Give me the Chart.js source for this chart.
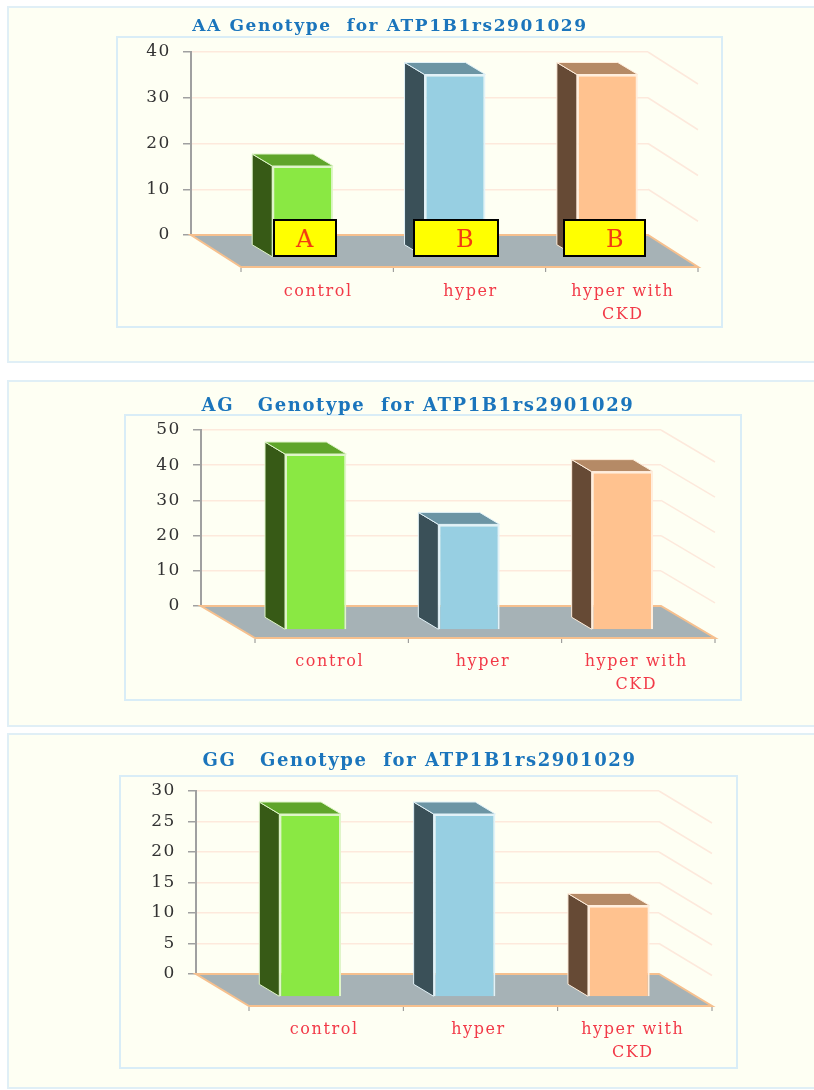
<!DOCTYPE html>
<html lang="en">
<head>
    <meta charset="UTF-8">
    <title>Genotype for ATP1B1rs2901029</title>
    <style>
        html, body { margin: 0; padding: 0; background: #fff; }
        body { position: relative; width: 814px; height: 1090px; overflow: hidden; }
        .panel, .frame, canvas, .tag { position: absolute; box-sizing: border-box; }
        .panel { left: 7px; width: 807px; background: #fefff3; border: 2px solid #e0eff6; border-right: 0; }
        .frame { border: 2px solid #d9edf7; }
        canvas { filter: blur(0.5px); }
        .tag {
            top: 219px; height: 38px;
            background: #ffff00; border: 2px solid #000;
            color: #f33b12; font: 24px/36px "DejaVu Serif", serif;
        }
    </style>
    <script src="https://cdn.jsdelivr.net/npm/chart.js"></script>
</head>
<body>
    <div class="panel" style="top:6px;height:357px"></div>
    <div class="panel" style="top:380px;height:347px"></div>
    <div class="panel" style="top:733px;height:356px"></div>
    <div class="frame" style="left:116px;top:36px;width:607px;height:292px"></div>
    <div class="frame" style="left:124px;top:414px;width:618px;height:287px"></div>
    <div class="frame" style="left:119px;top:775px;width:619px;height:294px"></div>

    <canvas id="chartAA" width="814" height="357" style="left:0;top:6px"></canvas>
    <canvas id="chartAG" width="814" height="347" style="left:0;top:380px"></canvas>
    <canvas id="chartGG" width="814" height="356" style="left:0;top:733px"></canvas>

    <div class="tag" style="left:273px;width:64px;padding-left:21px">A</div>
    <div class="tag" style="left:413px;width:86px;padding-left:41px">B</div>
    <div class="tag" style="left:563px;width:83px;padding-left:41px">B</div>

    <script>
        const categories = ['control', 'hyper', ['hyper with', 'CKD']];
        const aaValues = [20, 40, 40];
        const agValues = [50, 30, 45];
        const ggValues = [30, 30, 15];

        const frontColors = ['#8ae843', '#97cfe2', '#ffc28f'];
        const edgeColors = ['#dff5c8', '#e2f2f8', '#ffeedd'];
        const sideColors = ['#375a16', '#3a5058', '#664a35'];
        const topColors = ['#5fa52a', '#6c95a4', '#b58a66'];

        // draws the 3D parts around the normal bars: floor, side wall lines, bar sides and tops
        const fake3d = {
            id: 'fake3d',
            afterLayout(chart, args, opts) {
                // the title is centred on its own spot, not on the plot
                const t = chart.titleBlock;
                t.left = 2 * opts.titleCenter - t.right;
            },
            beforeDraw(chart) {
                // the original picture is stretched sideways, so all text is spaced out a bit
                chart.ctx.letterSpacing = '1.6px';
            },
            beforeDatasetsDraw(chart, args, opts) {
                const ctx = chart.ctx;
                const area = chart.chartArea;
                const yScale = chart.scales.y;
                const dx = opts.depthX, dy = opts.depthY;

                ctx.save();
                // grid lines going forward on the right hand wall
                ctx.strokeStyle = '#fde9dc';
                ctx.lineWidth = 1.5;
                yScale.ticks.forEach(t => {
                    if (t.value === 0) return;
                    const y = yScale.getPixelForValue(t.value);
                    ctx.beginPath();
                    ctx.moveTo(area.right, y);
                    ctx.lineTo(area.right + dx, y + dy);
                    ctx.stroke();
                });

                // floor
                ctx.beginPath();
                ctx.moveTo(area.left, area.bottom);
                ctx.lineTo(area.right, area.bottom);
                ctx.lineTo(area.right + dx, area.bottom + dy);
                ctx.lineTo(area.left + dx, area.bottom + dy);
                ctx.closePath();
                ctx.fillStyle = '#a6b2b6';
                ctx.fill();
                ctx.strokeStyle = '#f6c08e';
                ctx.lineWidth = 2;
                ctx.stroke();

                // tick marks under the front edge of the floor
                ctx.strokeStyle = '#8c8c8c';
                ctx.lineWidth = 1;
                for (let i = 0; i <= categories.length; i++) {
                    const x = area.left + dx + i * (area.right - area.left) / categories.length;
                    ctx.beginPath();
                    ctx.moveTo(x, area.bottom + dy + 1);
                    ctx.lineTo(x, area.bottom + dy + 5);
                    ctx.stroke();
                }
                ctx.restore();

                // everything belonging to the bars sits in front of the wall
                ctx.save();
                ctx.translate(opts.barX, opts.barY);
                const sx = opts.sideX, sy = opts.sideY;
                chart.getDatasetMeta(0).data.forEach((bar, i) => {
                    const left = bar.x - bar.width / 2;
                    const right = bar.x + bar.width / 2;
                    ctx.lineWidth = 1;
                    ctx.strokeStyle = edgeColors[i];

                    ctx.beginPath();
                    ctx.moveTo(left, bar.y);
                    ctx.lineTo(left - sx, bar.y - sy);
                    ctx.lineTo(left - sx, bar.base - sy);
                    ctx.lineTo(left, bar.base);
                    ctx.closePath();
                    ctx.fillStyle = sideColors[i];
                    ctx.fill();
                    ctx.stroke();

                    ctx.beginPath();
                    ctx.moveTo(left, bar.y);
                    ctx.lineTo(left - sx, bar.y - sy);
                    ctx.lineTo(right - sx, bar.y - sy);
                    ctx.lineTo(right, bar.y);
                    ctx.closePath();
                    ctx.fillStyle = topColors[i];
                    ctx.fill();
                    ctx.stroke();
                });
            },
            afterDatasetsDraw(chart) {
                chart.ctx.restore();
            }
        };

        function makeChart(id, titleText, values, yMax, yStep, g) {
            const leftPad = g.left - 70;
            const fitScale = (s, key, value) => {
                s[key] = value;
                s.paddingLeft = s.paddingRight = s.paddingTop = s.paddingBottom = 0;
            };
            return new Chart(document.getElementById(id), {
                type: 'bar',
                data: {
                    labels: categories,
                    datasets: [{
                        data: values,
                        backgroundColor: frontColors,
                        borderColor: edgeColors,
                        borderWidth: 2,
                        barPercentage: 0.4,
                        categoryPercentage: 1,
                        clip: false
                    }]
                },
                plugins: [fake3d],
                options: {
                    responsive: false,
                    animation: false,
                    layout: { padding: { left: leftPad, right: 814 - g.right, top: 0, bottom: 0 } },
                    plugins: {
                        legend: { display: false },
                        tooltip: { enabled: false },
                        title: {
                            display: true,
                            text: titleText,
                            color: '#1b75bc',
                            font: { family: '"DejaVu Serif", serif', size: g.titleSize, weight: 'bold', lineHeight: 1 },
                            padding: { top: g.titleTop, bottom: g.top - g.titleTop - g.titleSize }
                        },
                        fake3d: {
                            titleCenter: g.titleCenter,
                            depthX: g.depthX, depthY: 32,
                            barX: g.barX, barY: g.barY,
                            sideX: 20, sideY: 12
                        }
                    },
                    scales: {
                        x: {
                            offset: true,
                            grid: { display: false },
                            border: { display: false },
                            afterFit: s => fitScale(s, 'height', g.canvasH - g.top - g.plotH),
                            ticks: {
                                autoSkip: false,
                                maxRotation: 0,
                                labelOffset: g.labelX,
                                padding: g.labelY,
                                color: '#f23a48',
                                font: { family: '"DejaVu Serif", serif', size: 16, lineHeight: 1.4 }
                            }
                        },
                        y: {
                            min: 0,
                            max: yMax,
                            afterFit: s => fitScale(s, 'width', 70),
                            grid: { color: '#fde9dc', lineWidth: 1.5, tickColor: '#a0a0a0', tickLength: 8 },
                            border: { color: '#a0a0a0', width: 2 },
                            ticks: {
                                stepSize: yStep,
                                padding: 12,
                                color: '#333333',
                                font: { family: '"DejaVu Serif", serif', size: 17 }
                            }
                        }
                    }
                }
            });
        }

        makeChart('chartAA', 'AA Genotype  for ATP1B1rs2901029', aaValues, 40, 10, {
            canvasH: 357, left: 191, right: 648, top: 46, plotH: 183, titleCenter: 390, titleTop: 12, titleSize: 17,
            depthX: 50, barX: 35.5, barY: 22.5, labelX: 51, labelY: 38
        });
        makeChart('chartAG', 'AG   Genotype  for ATP1B1rs2901029', agValues, 50, 10, {
            canvasH: 347, left: 201, right: 661, top: 50, plotH: 176, titleCenter: 418, titleTop: 17, titleSize: 18,
            depthX: 54, barX: 38, barY: 24, labelX: 52, labelY: 37
        });
        makeChart('chartGG', 'GG   Genotype  for ATP1B1rs2901029', ggValues, 30, 5, {
            canvasH: 356, left: 196, right: 659, top: 58, plotH: 183, titleCenter: 419.5, titleTop: 19, titleSize: 18,
            depthX: 53, barX: 37, barY: 23, labelX: 51, labelY: 37
        });
    </script>
</body>
</html>
